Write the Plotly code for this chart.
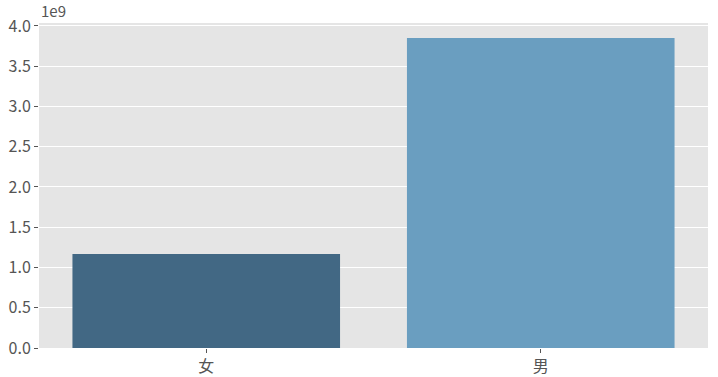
import plotly.graph_objects as go

categories = ["女", "男"]
values = [1.168e9, 3.851e9]
colors = ["#426884", "#6A9EC0"]
y_ticks = [0, 0.5e9, 1.0e9, 1.5e9, 2.0e9, 2.5e9, 3.0e9, 3.5e9, 4.0e9]
y_tick_labels = ["0.0", "0.5", "1.0", "1.5", "2.0", "2.5", "3.0", "3.5", "4.0"]

font_family = "Noto Sans CJK SC, DejaVu Sans, sans-serif"

fig = go.Figure(
    go.Bar(
        x=[0, 1],
        y=values,
        marker=dict(color=colors, line=dict(width=0)),
        width=0.8,
    )
)

fig.update_layout(
    width=718,
    height=377,
    margin=dict(l=39, r=10, t=23, b=29),
    paper_bgcolor="white",
    plot_bgcolor="#E5E5E5",
    showlegend=False,
    font=dict(family=font_family, color="#555555", size=16),
    xaxis=dict(
        range=[-0.5, 1.5],
        tickvals=[0, 1],
        ticktext=categories,
        showgrid=False,
        zeroline=False,
        ticks="outside",
        ticklen=4,
        tickcolor="#555555",
        tickfont=dict(size=16, color="#555555"),
        fixedrange=True,
        automargin=False,
    ),
    yaxis=dict(
        range=[0, 4.037e9],
        tickvals=y_ticks,
        ticktext=y_tick_labels,
        showgrid=True,
        gridcolor="white",
        gridwidth=1,
        zeroline=False,
        ticks="outside",
        ticklen=4,
        tickcolor="#555555",
        tickfont=dict(size=16, color="#555555"),
        fixedrange=True,
        automargin=False,
    ),
    annotations=[
        dict(
            text="1e9",
            xref="paper",
            yref="paper",
            x=0,
            y=1,
            xanchor="left",
            yanchor="bottom",
            showarrow=False,
            font=dict(size=15, color="#555555", family=font_family),
            yshift=0,
        )
    ],
)

fig.write_html("out.html")
